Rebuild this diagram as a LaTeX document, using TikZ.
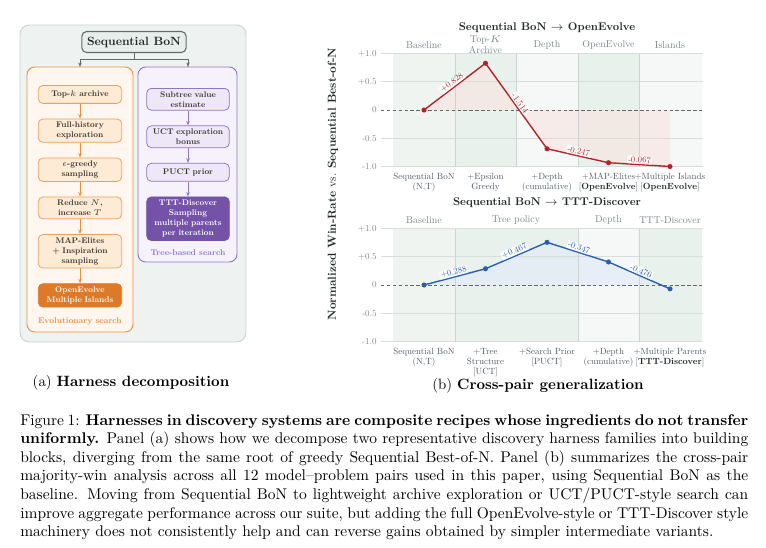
\RequirePackage{fix-cm}
\documentclass[tikz,border=0pt]{standalone}
\usepackage{amsmath}
\usepackage{amssymb}
\usepackage{tikz}
\usetikzlibrary{arrows.meta,calc,positioning}
% one design size, scaled
\DeclareFontFamily{TU}{lmten}{}
\DeclareFontShape{TU}{lmten}{m}{n}{<-> \UnicodeFontFile{lmroman10-regular}{\UnicodeFontTeXLigatures}}{}
\DeclareFontShape{TU}{lmten}{bx}{n}{<-> \UnicodeFontFile{lmroman10-bold}{\UnicodeFontTeXLigatures}}{}
\DeclareFontShape{TU}{lmten}{m}{it}{<-> \UnicodeFontFile{lmroman10-italic}{\UnicodeFontTeXLigatures}}{}
\DeclareFontShape{TU}{lmten}{b}{n}{<-> ssub * lmten/bx/n}{}
\renewcommand{\rmdefault}{lmten}
\definecolor{panelfill}{HTML}{EEF2F0}
\definecolor{panelline}{HTML}{C9D3CF}
\definecolor{rootfill}{HTML}{E8EEEC}
\definecolor{rootline}{HTML}{5E6E69}
\definecolor{evoline}{HTML}{E8903F}
\definecolor{evofill}{HTML}{FFF7EF}
\definecolor{evobg}{HTML}{FDEBD6}
\definecolor{evodark}{HTML}{DE7A27}
\definecolor{treeline}{HTML}{9275C4}
\definecolor{treefill}{HTML}{F5F2FB}
\definecolor{treebg}{HTML}{EDE7F7}
\definecolor{treedark}{HTML}{7352A8}
\definecolor{boxtext}{HTML}{3B3530}
\definecolor{inkgray}{HTML}{222A2A}
\definecolor{tickgray}{HTML}{7C8784}
\definecolor{headgray}{HTML}{7A878C}
\definecolor{labgray}{HTML}{4E5A66}
\definecolor{gridgray}{HTML}{D6DEDA}
\definecolor{bgpale}{HTML}{F6F8F7}
\definecolor{bglight}{HTML}{EFF4F1}
\definecolor{bggreen}{HTML}{E9F1ED}
\definecolor{curvered}{HTML}{B3232B}
\definecolor{curveblue}{HTML}{2C5EAE}
\definecolor{areared}{HTML}{F6E6E3}
\definecolor{areablue}{HTML}{E3EBF8}
\tikzset{
  panel/.style={
    rounded corners=6pt,
    draw=panelline,
    fill=panelfill,
    line width=0.6pt
  },
  rootbox/.style={
    rounded corners=3pt,
    draw=rootline,
    fill=rootfill,
    line width=0.7pt,
    minimum width=65pt,
    minimum height=12.9pt,
    text=inkgray,
    font=\fontsize{7.7}{9}\selectfont\bfseries
  },
  evoframe/.style={
    rounded corners=5pt,
    draw=evoline,
    fill=evofill,
    line width=0.6pt
  },
  treeframe/.style={
    rounded corners=5pt,
    draw=treeline,
    fill=treefill,
    line width=0.6pt
  },
  evobox/.style={
    rounded corners=3pt,
    draw=evoline!85,
    fill=evobg,
    line width=0.5pt,
    align=center,
    text width=50pt,
    minimum height=11.6pt,
    inner sep=1.9pt,
    text=boxtext,
    font=\fontsize{5.3}{6.55}\selectfont\bfseries
  },
  evoend/.style={
    evobox,
    draw=evodark,
    fill=evodark,
    text=white
  },
  treebox/.style={
    evobox,
    draw=treeline,
    fill=treebg,
    text width=49.5pt
  },
  treeend/.style={
    treebox,
    draw=treedark,
    fill=treedark,
    text=white
  },
  evolabel/.style={
    text=evoline,
    font=\fontsize{5.4}{7}\selectfont\bfseries
  },
  treelabel/.style={
    text=treeline,
    font=\fontsize{5.4}{7}\selectfont\bfseries
  },
  rootarrow/.style={
    -{Stealth[length=3pt]},
    line width=0.6pt,
    rootline
  },
  evoarrow/.style={
    -{Stealth[length=3pt]},
    line width=0.6pt,
    evoline
  },
  treearrow/.style={
    -{Stealth[length=3pt]},
    line width=0.6pt,
    treeline
  },
  ticklab/.style={
    anchor=east,
    inner sep=0pt,
    text=tickgray,
    font=\fontsize{5.8}{7}\selectfont
  },
  colhead/.style={
    align=center,
    inner sep=0pt,
    text=headgray,
    font=\fontsize{6.4}{7.4}\selectfont
  },
  xlab/.style={
    anchor=north,
    align=center,
    inner sep=0pt,
    text=labgray,
    font=\fontsize{5.8}{6.45}\selectfont
  },
  charttitle/.style={
    text=inkgray,
    font=\fontsize{7.2}{9}\selectfont\bfseries
  },
  ylab/.style={
    text=inkgray,
    font=\fontsize{7.5}{9}\selectfont
  },
  gridln/.style={gridgray, line width=0.5pt},
  sepln/.style={gridgray!90!black!80, line width=0.5pt},
  zeroln/.style={black!60, line width=0.5pt, dash pattern=on 2.2pt off 1.6pt},
  curvea/.style={curvered, line width=0.9pt},
  curveb/.style={curveblue, line width=0.9pt},
  dota/.style={circle, fill=curvered, inner sep=0pt, minimum size=3.3pt},
  dotb/.style={circle, fill=curveblue, inner sep=0pt, minimum size=3.3pt},
  laba/.style={
    sloped, above, pos=0.5,
    fill=white, fill opacity=0.75, text opacity=1,
    inner sep=0.6pt,
    text=curvered,
    font=\fontsize{5.6}{7}\selectfont
  },
  labb/.style={
    laba,
    text=curveblue
  },
  subcap/.style={
    font=\fontsize{9.6}{11.5}\selectfont
  },
  capt/.style={
    anchor=north west,
    inner sep=0pt,
    text width=469.75pt,
    align=justify,
    font=\fontsize{10}{12}\selectfont
  }
}
\begin{document}
\begin{tikzpicture}[x=0.6453pt, y=-0.6453pt, node distance=9.6pt]
\useasboundingbox (0,0) rectangle (766,547);

% (a) harness decomposition
\draw[panel] (20,25) rectangle (246,342);
\draw[evoframe] (27,67) rectangle (133,332);
\draw[treeframe] (138,67) rectangle (237,262);
\node[rootbox] (root) at (134,42) {Sequential BoN};
\coordinate (evotop) at (80,67);
\coordinate (treetop) at (188,67);
\draw[rootarrow] (root.south) -- ++(0,6) -| (evotop);
\draw[rootarrow] (root.south) ++(0,6) -| (treetop);

\node[evobox,anchor=north] (topk) at (80,85) {Top-$k$ archive};
\node[evobox,below=of topk] (fullhist) {Full-history\\exploration};
\node[evobox,below=of fullhist] (egreedy) {$\epsilon$-greedy\\sampling};
\node[evobox,below=of egreedy] (reduce) {Reduce $N$,\\increase $T$};
\node[evobox,below=of reduce] (mapel) {MAP-Elites\\+ Inspiration\\sampling};
\node[evoend,below=of mapel] (openevo) {OpenEvolve\\Multiple Islands};
\node[evolabel,below=3pt of openevo] (evolab) {Evolutionary search};
\foreach \a/\b in {topk/fullhist,fullhist/egreedy,egreedy/reduce,reduce/mapel,mapel/openevo}
  \draw[evoarrow] (\a) -- (\b);

\node[treebox,anchor=north] (subtree) at (188,88) {Subtree value\\estimate};
\node[treebox,below=of subtree] (uct) {UCT exploration\\bonus};
\node[treebox,below=of uct] (puct) {PUCT prior};
\node[treeend,below=of puct] (tttbox) {TTT-Discover\\Sampling\\multiple parents\\per iteration};
\node[treelabel,below=2pt of tttbox] (treelab) {Tree-based search};
\foreach \a/\b in {subtree/uct,uct/puct,puct/tttbox}
  \draw[treearrow] (\a) -- (\b);

\node[subcap] (capa) at (131,383) {(a) \textbf{Harness decomposition}};

% (b) cross-pair generalization
\node[ylab,rotate=90] (yaxis) at (333,184) {\textbf{Normalized Win-Rate} vs. \textbf{Sequential Best-of-N}};

% top chart: OpenEvolve
\begin{scope}[shift={(0,110)}, y=36.46pt]
\fill[bglight] (393,-1) rectangle (455,1);
\fill[bggreen] (455,-1) rectangle (516,1);
\fill[bgpale] (516,-1) rectangle (578,1);
\fill[bggreen] (578,-1) rectangle (639,1);
\fill[bgpale] (639,-1) rectangle (702,1);
\fill[areared,opacity=0.7] (424,0) -- (485.5,0.828) -- (547,-0.686) -- (608.5,-0.933) -- (670,-1.0) -- (670,0) -- cycle;
\foreach \v in {-1,-0.5,0.5,1}
  \draw[gridln] (381,\v) -- (703,\v);
\foreach \xs in {455,516,578,639}
  \draw[sepln] (\xs,-1) -- (\xs,1);
\draw[zeroln] (381,0) -- (703,0);
\foreach \v/\t [count=\i] in {1/+1.0,0.5/+0.5,0/0,-0.5/-0.5,-1/-1.0}
  \node[ticklab] (ta\i) at (377,\v) {\t};
\node[charttitle] (titlea) at (547,1.45) {Sequential BoN $\rightarrow$ OpenEvolve};
\node[colhead] (ha1) at (424,1.15) {Baseline};
\node[colhead] (ha2) at (485.5,1.16) {Top-$K$\\Archive};
\node[colhead] (ha3) at (547,1.15) {Depth};
\node[colhead] (ha4) at (608.5,1.15) {OpenEvolve};
\node[colhead] (ha5) at (670,1.15) {Islands};

\coordinate (a0) at (424,0);
\coordinate (a1) at (485.5,0.828);
\coordinate (a2) at (547,-0.686);
\coordinate (a3) at (608.5,-0.933);
\coordinate (a4) at (670,-1.0);
\draw[curvea] (a0) -- node[laba] (la1) {+0.828} (a1)
  -- node[laba] (la2) {-1.514} (a2)
  -- node[laba] (la3) {-0.247} (a3)
  -- node[laba] (la4) {-0.067} (a4);
\foreach \p in {a0,a1,a2,a3,a4}
  \node[dota] (d\p) at (\p) {};

\node[xlab] (xa1) at (424,-1.115) {Sequential BoN\\(N,T)};
\node[xlab] (xa2) at (485.5,-1.115) {+Epsilon\\Greedy};
\node[xlab] (xa3) at (547,-1.115) {+Depth\\(cumulative)};
\node[xlab] (xa4) at (608.5,-1.115) {+MAP-Elites\\{[}\textcolor{inkgray}{\textbf{OpenEvolve}}{]}};
\node[xlab] (xa5) at (670,-1.115) {+Multiple Islands\\{[}\textcolor{inkgray}{\textbf{OpenEvolve}}{]}};
\end{scope}

% bottom chart: TTT-Discover
\begin{scope}[shift={(0,285)}, y=36.46pt]
\fill[bglight] (393,-1) rectangle (455,1);
\fill[bggreen] (455,-1) rectangle (578,1);
\fill[bgpale] (578,-1) rectangle (639,1);
\fill[bggreen] (639,-1) rectangle (702,1);
\fill[areablue,opacity=0.7] (424,0) -- (485.5,0.288) -- (547,0.755) -- (608.5,0.408) -- (670,-0.068) -- (670,0) -- cycle;
\foreach \v in {-1,-0.5,0.5,1}
  \draw[gridln] (381,\v) -- (703,\v);
\foreach \xs in {455,578,639}
  \draw[sepln] (\xs,-1) -- (\xs,1);
\draw[zeroln] (381,0) -- (703,0);
\foreach \v/\t [count=\i] in {1/+1.0,0.5/+0.5,0/0,-0.5/-0.5,-1/-1.0}
  \node[ticklab] (tb\i) at (377,\v) {\t};
\node[charttitle] (titleb) at (547,1.45) {Sequential BoN $\rightarrow$ TTT-Discover};
\node[colhead] (hb1) at (424,1.15) {Baseline};
\node[colhead] (hb2) at (516,1.15) {Tree policy};
\node[colhead] (hb3) at (608.5,1.15) {Depth};
\node[colhead] (hb4) at (670,1.15) {TTT-Discover};

\coordinate (b0) at (424,0);
\coordinate (b1) at (485.5,0.288);
\coordinate (b2) at (547,0.755);
\coordinate (b3) at (608.5,0.408);
\coordinate (b4) at (670,-0.068);
\draw[curveb] (b0) -- node[labb] (lb1) {+0.288} (b1)
  -- node[labb] (lb2) {+0.467} (b2)
  -- node[labb] (lb3) {-0.347} (b3)
  -- node[labb] (lb4) {-0.476} (b4);
\foreach \p in {b0,b1,b2,b3,b4}
  \node[dotb] (d\p) at (\p) {};

\node[xlab] (xb1) at (424,-1.115) {Sequential BoN\\(N,T)};
\node[xlab] (xb2) at (485.5,-1.115) {+Tree\\Structure\\{[}UCT{]}};
\node[xlab] (xb3) at (547,-1.115) {+Search Prior\\{[}PUCT{]}};
\node[xlab] (xb4) at (608.5,-1.115) {+Depth\\(cumulative)};
\node[xlab] (xb5) at (670,-1.115) {+Multiple Parents\\{[}\textcolor{inkgray}{\textbf{TTT-Discover}}{]}};
\end{scope}

\node[subcap] (capb) at (538,386) {(b) \textbf{Cross-pair generalization}};

% figure caption
\node[capt] (figcap) at (20,414) {Figure 1: \textbf{Harnesses in discovery systems are composite recipes whose ingredients do not transfer uniformly.} Panel (a) shows how we decompose two representative discovery harness families into building blocks, diverging from the same root of greedy Sequential Best-of-N. Panel (b) summarizes the cross-pair majority-win analysis across all 12 model\textendash problem pairs used in this paper, using Sequential BoN as the baseline. Moving from Sequential BoN to lightweight archive exploration or UCT/PUCT-style search can improve aggregate performance across our suite, but adding the full OpenEvolve-style or TTT-Discover style machinery does not consistently help and can reverse gains obtained by simpler intermediate variants.};
\end{tikzpicture}
\end{document}
